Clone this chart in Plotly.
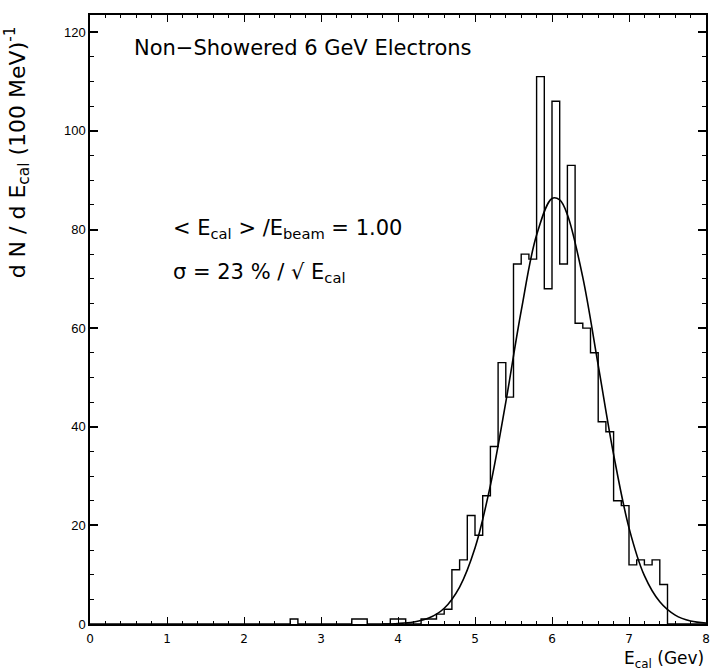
import plotly.graph_objects as go

# Histogram: lower bin edges (GeV) and counts per 100 MeV (bins with entries)
bin_lo = [2.6, 3.4, 3.5, 3.9, 4.0, 4.3, 4.4, 4.5, 4.6, 4.7, 4.8, 4.9, 5.0, 5.1, 5.2,
          5.3, 5.4, 5.5, 5.6, 5.7, 5.8, 5.9, 6.0, 6.1, 6.2, 6.3, 6.4, 6.5, 6.6,
          6.7, 6.8, 6.9, 7.0, 7.1, 7.2, 7.3, 7.4]
counts = [1, 1, 1, 1, 1, 1, 1, 2, 3, 11, 13, 22, 18, 26, 36,
          53, 46, 73, 75, 74, 111, 68, 106, 73, 93, 61, 60, 55, 41,
          39, 25, 24, 12, 13, 12, 13, 8]
bin_width = 0.1

# Fitted curve, values
fit_e = [3.8, 4.0, 4.2, 4.4, 4.6, 4.8, 5.0, 5.2, 5.4, 5.6, 5.8, 6.0, 6.1, 6.2,
         6.4, 6.6, 6.8, 7.0, 7.2, 7.4, 7.6, 7.8, 8.0]
fit_n = [0.0, 0.1, 0.4, 1.2, 3.2, 7.5, 15.4, 28.1, 45.0, 63.5, 78.9, 86.3, 86.0, 83.0,
         70.3, 52.5, 34.4, 19.5, 9.8, 4.5, 1.8, 0.6, 0.2]

x_ticks = [0, 1, 2, 3, 4, 5, 6, 7, 8]
y_ticks = [0, 20, 40, 60, 80, 100, 120]

# build step outline over the full axis range
nb = 80
full = [0] * nb
for lo, c in zip(bin_lo, counts):
    full[int(round(lo / bin_width))] = c
hx = [i * bin_width for i in range(nb)] + [nb * bin_width]
hy = full + [full[-1]]

fig = go.Figure()
fig.add_trace(go.Scatter(x=hx, y=hy, mode="lines", line=dict(color="black", width=1.4, shape="hv"),
                         showlegend=False, hoverinfo="skip"))
fig.add_trace(go.Scatter(x=fit_e, y=fit_n, mode="lines", line=dict(color="black", width=1.6, shape="spline"),
                         showlegend=False, hoverinfo="skip"))

axis_common = dict(showgrid=False, zeroline=False, showline=True, linecolor="black", linewidth=1.5,
                   mirror="allticks", ticks="inside", tickcolor="black")
fig.update_xaxes(range=[0, 8], tickvals=x_ticks, ticktext=[str(v) for v in x_ticks], ticklen=7,
                 tickwidth=1.2, tickfont=dict(family="DejaVu Sans", size=12, color="black"),
                 ticklabelstandoff=3,
                 minor=dict(ticks="inside", dtick=0.2, ticklen=3, tickcolor="black", tickwidth=1),
                 **axis_common)
fig.update_yaxes(range=[0, 123.5], tickvals=y_ticks, ticktext=[str(v) for v in y_ticks], ticklen=8,
                 tickwidth=1.5, tickfont=dict(family="Liberation Sans", size=13, color="black"),
                 minor=dict(ticks="inside", dtick=5, ticklen=4, tickcolor="black", tickwidth=1.2),
                 **axis_common)

txt_font = dict(family="DejaVu Sans", size=21, color="black")
fig.add_annotation(x=0.068, y=0.946, xref="paper", yref="paper", xanchor="left", yanchor="middle",
                   text="Non\u2212Showered 6 GeV Electrons", showarrow=False, font=txt_font)
fig.add_annotation(x=0.131, y=0.648, xref="paper", yref="paper", xanchor="left", yanchor="middle",
                   text="< E<sub>cal</sub> > /E<sub>beam</sub> = 1.00", showarrow=False, font=txt_font)
fig.add_annotation(x=0.131, y=0.577, xref="paper", yref="paper", xanchor="left", yanchor="middle",
                   text="\u03c3 = 23 % / \u221a E<sub>cal</sub>", showarrow=False, font=txt_font)
fig.add_annotation(x=1.0, y=-0.036, xref="paper", yref="paper", xanchor="right", yanchor="top",
                   text="E<sub>cal</sub> (Gev)", showarrow=False,
                   font=dict(family="DejaVu Sans", size=17, color="black"))
fig.add_annotation(x=-0.118, y=0.775, xref="paper", yref="paper", xanchor="center", yanchor="middle",
                   textangle=-90, text="d N / d E<sub>cal</sub> (100 MeV)<sup>-1</sup>", showarrow=False,
                   font=dict(family="DejaVu Sans", size=22, color="black"))

fig.update_layout(width=714, height=672, margin=dict(l=90, r=4, t=15, b=48),
                  plot_bgcolor="white", paper_bgcolor="white")
fig.write_html("out.html")
